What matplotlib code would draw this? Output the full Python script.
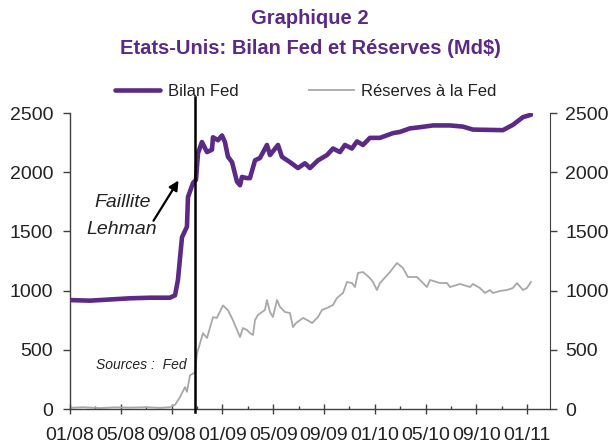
import matplotlib
matplotlib.use('Agg')
import matplotlib.pyplot as plt

plt.rcParams['font.family'] = ['Liberation Sans', 'DejaVu Sans']

# x = months since 01/2008
bilan_x = [0.00, 1.57, 3.15, 4.72, 6.30, 7.87, 8.27, 8.50, 8.82, 9.21, 9.29, 9.69,
           9.92, 10.08, 10.39, 10.79, 11.18, 11.26, 11.65, 11.97, 12.20, 12.44, 12.76,
           13.15, 13.39, 13.54, 13.94, 14.17, 14.57, 14.96, 15.51, 15.75, 16.38, 16.69,
           17.32, 17.95, 18.50, 18.90, 19.53, 20.24, 20.71, 21.26, 21.65, 22.20, 22.60,
           23.07, 23.62, 24.41, 25.43, 25.98, 26.77, 27.56, 28.58, 29.92, 30.94, 31.73,
           34.09, 34.88, 35.67, 36.30]
bilan_y = [920, 915, 925, 935, 940, 940, 960, 1090, 1450, 1540, 1790, 1910,
           1935, 2160, 2255, 2170, 2190, 2295, 2270, 2310, 2255, 2130, 2085,
           1920, 1890, 1960, 1950, 1950, 2100, 2120, 2230, 2145, 2230, 2130,
           2085, 2035, 2075, 2035, 2100, 2145, 2200, 2170, 2230, 2200, 2260,
           2230, 2290, 2290, 2330, 2340, 2370, 2380, 2395, 2395, 2385, 2360,
           2355, 2400, 2465, 2485]

res_x = [0.00, 1.00, 2.36, 3.50, 4.72, 6.00, 7.09, 7.87, 8.27, 8.66, 8.82, 9.06,
         9.21, 9.45, 9.69, 9.84, 10.00, 10.24, 10.47, 10.79, 11.26, 11.57, 12.05,
         12.44, 12.83, 13.39, 13.62, 13.94, 14.17, 14.41, 14.57, 14.80, 15.12, 15.35,
         15.51, 15.75, 15.98, 16.30, 16.54, 16.93, 17.32, 17.56, 17.80, 18.35, 18.66,
         19.06, 19.53, 19.84, 20.24, 20.71, 21.02, 21.50, 21.81, 22.20, 22.44, 22.68,
         23.07, 23.62, 23.86, 24.17, 24.41, 25.20, 25.75, 26.22, 26.61, 27.32, 28.11,
         28.35, 29.13, 29.69, 29.92, 30.71, 31.50, 31.73, 32.28, 32.68, 33.07, 33.31,
         33.86, 34.41, 34.88, 35.20, 35.67, 35.98, 36.30]
res_y = [10, 15, 8, 14, 12, 15, 10, 15, 35, 100, 135, 185,
         145, 285, 300, 305, 470, 555, 640, 600, 775, 770, 875,
         835, 750, 608, 684, 667, 642, 625, 752, 794, 819, 836,
         920, 819, 777, 920, 862, 819, 811, 692, 726, 769, 752,
         726, 777, 836, 853, 878, 937, 980, 1073, 1064, 1030, 1149,
         1157, 1106, 1073, 1005, 1064, 1157, 1233, 1191, 1115, 1115, 1030,
         1090, 1064, 1064, 1030, 1056, 1030, 1056, 1022, 980, 1005, 980,
         997, 1005, 1022, 1064, 1005, 1022, 1073]

tick_pos = [0, 4, 8, 12, 16, 20, 24, 28, 32, 36]
tick_labels = ['01/08', '05/08', '09/08', '01/09', '05/09', '09/09',
               '01/10', '05/10', '09/10', '01/11']
minor_pos = [2, 6, 10, 14, 18, 22, 26, 30, 34]
y_ticks = [0, 500, 1000, 1500, 2000, 2500]
lehman_x = 9.84

purple = '#5b2a86'
grey = '#a8a8a8'
spine_c = '#404040'
text_c = '#222222'

fig = plt.figure(figsize=(6.11, 4.45), dpi=100)
ax = fig.add_axes([70/611, 1 - 409/445, 480/611, 296/445])

ax.plot(res_x, res_y, color=grey, lw=1.3, label='Réserves à la Fed', zorder=2)
ax.plot(bilan_x, bilan_y, color=purple, lw=3.3, label='Bilan Fed',
        solid_capstyle='round', zorder=3)
ax.axvline(lehman_x, ymin=-0.01, ymax=1.054, color='black', lw=1.8,
           clip_on=False, zorder=4)

ax.set_xlim(0, 37.8)
ax.set_ylim(0, 2500)
ax.set_xticks(tick_pos, tick_labels)
ax.set_xticks(minor_pos, minor=True)
ax.set_yticks(y_ticks)

for s in ['top', 'right']:
    ax.spines[s].set_visible(False)
for s in ['left', 'bottom']:
    ax.spines[s].set_color(spine_c)
    ax.spines[s].set_linewidth(1.0)

ax.tick_params(axis='x', which='major', direction='inout', length=7.5, width=1,
               color=spine_c, labelsize=14, labelcolor=text_c, pad=9)
ax.tick_params(axis='x', which='minor', direction='in', length=2.5, width=1,
               color=spine_c)
ax.tick_params(axis='y', direction='out', length=5, width=1, color=spine_c,
               labelsize=14, labelcolor=text_c, pad=7)

ax2 = ax.twinx()
ax2.set_ylim(0, 2500)
ax2.set_yticks(y_ticks)
for s in ['top', 'left', 'bottom']:
    ax2.spines[s].set_visible(False)
ax2.spines['right'].set_color(spine_c)
ax2.tick_params(axis='y', direction='out', length=5, width=1, color=spine_c,
                labelsize=14, labelcolor=text_c, pad=6)

# annotations
ax.annotate('', xy=(8.66, 1950), xytext=(6.46, 1570),
            arrowprops=dict(arrowstyle='-|>', color='black', lw=1.6,
                            mutation_scale=14))
ax.text(4.17, 1748, 'Faillite', ha='center', va='center',
        fontsize=14, style='italic', color=text_c)
ax.text(4.1, 1512, 'Lehman', ha='center', va='center',
        fontsize=14, style='italic', color=text_c)
ax.text(5.6, 372, 'Sources :  Fed', ha='center', va='center',
        fontsize=10, style='italic', color=text_c)

# title
fig.text(310/611, 1 - 19/445, 'Graphique 2', ha='center', va='center',
         fontsize=14.5, fontweight='bold', color=purple)
fig.text(310/611, 1 - 48/445, 'Etats-Unis: Bilan Fed et Réserves (Md$)',
         ha='center', va='center', fontsize=14.5, fontweight='bold', color=purple)

# legend
h, l = ax.get_legend_handles_labels()
fig.legend(h[::-1], l[::-1], loc='center left',
           bbox_to_anchor=(115/611, 1 - 91/445), ncol=2, frameon=False,
           fontsize=12, handlelength=2.7, handletextpad=0.45,
           columnspacing=4.25, borderpad=0, borderaxespad=0,
           labelcolor=text_c)

fig.savefig('out.png', dpi=100)
